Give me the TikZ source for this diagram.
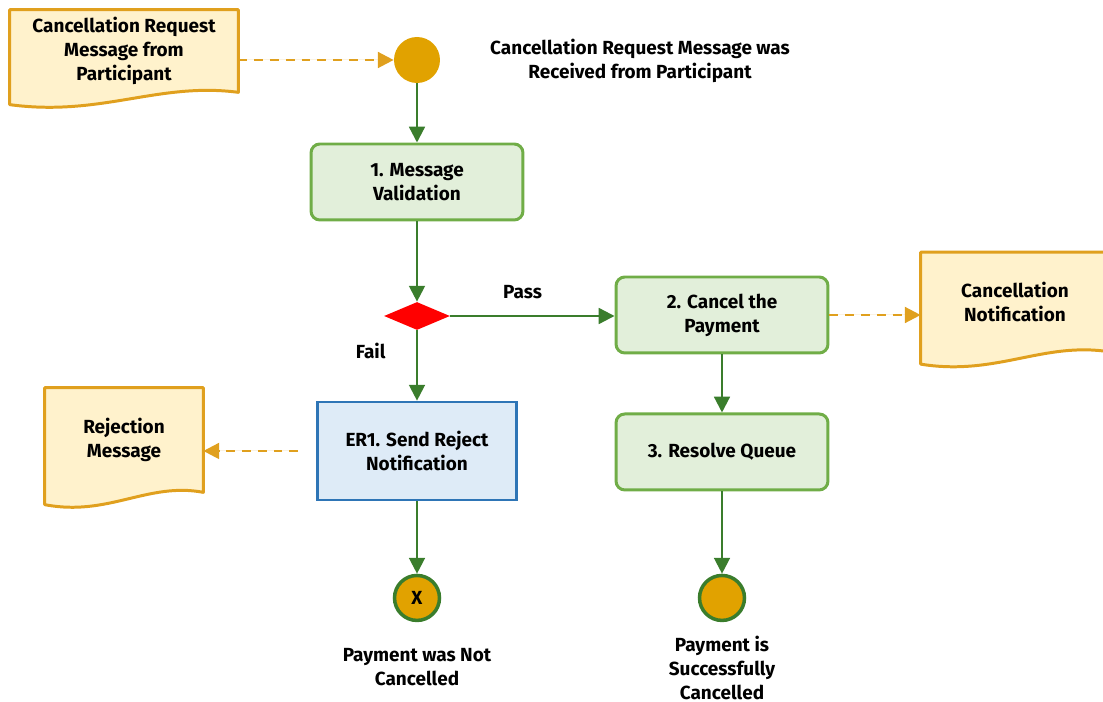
\documentclass[tikz,border=0pt]{standalone}
\usepackage{fontspec}
\setmainfont{Fira Sans}
\usetikzlibrary{shapes.geometric,arrows.meta,calc,backgrounds,positioning}

\definecolor{flowgreen}{HTML}{3A7D2C}
\definecolor{boxline}{HTML}{70AD47}
\definecolor{boxfill}{HTML}{E2EFDA}
\definecolor{errline}{HTML}{2E75B6}
\definecolor{errfill}{HTML}{DEEBF7}
\definecolor{docline}{HTML}{E0A01E}
\definecolor{docfill}{HTML}{FFF2CC}
\definecolor{eventfill}{HTML}{E1A200}

% document outline with a wavy bottom, drawn behind a node
\newcommand{\docshape}[1]{%
    \begin{scope}[on background layer]
    \draw[docline, fill=docfill, line width=1.7pt, line join=round]
        (#1.north west) -- (#1.north east) -- (#1.south east)
        .. controls ($(#1.south east)!0.35!(#1.south west)+(0,6pt)$)
        and ($(#1.south east)!0.6!(#1.south west)+(0,-14pt)$)
        .. ($(#1.south west)+(0,-7pt)$) -- cycle;
    \end{scope}}

\begin{document}
\begin{tikzpicture}[x=0.02cm,y=-0.02cm]
    \tikzstyle{txt} = [font=\fontsize{10.8}{13.7}\selectfont\bfseries, align=center]
    \tikzstyle{line} = [-{Triangle[length=9pt,width=9pt]}, draw=flowgreen,
        fill=flowgreen, line width=1.3pt]
    \tikzstyle{dline} = [-{Triangle[length=9pt,width=9pt]}, draw=docline,
        fill=docline, line width=1.4pt, dash pattern=on 5pt off 4pt]
    \tikzstyle{greenbox} = [txt, rectangle, rounded corners=5pt, draw=boxline,
        fill=boxfill, line width=1.7pt, minimum width=4.24cm, minimum height=1.52cm]
    \tikzstyle{bluebox} = [txt, rectangle, draw=errline, fill=errfill,
        line width=1.5pt, minimum width=3.98cm, minimum height=1.96cm]
    \tikzstyle{doc} = [txt, rectangle, inner sep=0pt]
    \tikzstyle{event} = [circle, fill=eventfill, minimum size=0.92cm, inner sep=0pt]
    \tikzstyle{endevent} = [event, draw=flowgreen, line width=2pt, minimum size=0.9cm,
        txt]

    \clip (0,0) rectangle (1103,702);

    \node(reqmsg) [doc, minimum width=4.56cm, minimum height=1.64cm]
        at (124,51) {Cancellation Request\\ Message from\\ Participant};
    \docshape{reqmsg}
    \node(start) [event] at (417,60) {};
    \node(startlabel) [txt] at (640,61)
        {Cancellation Request Message was\\ Received from Participant};

    \node(validate) [greenbox] at (417,182) {1. Message\\ Validation};
    \node(check) [diamond, fill=red, minimum width=1.32cm, minimum height=0.56cm,
        inner sep=0pt] at (417,316) {};
    \node(cancel) [greenbox] at (722,315) {2. Cancel the\\ Payment};
    \node(resolve) [greenbox, below of=cancel, node distance=2.74cm]
        {3. Resolve Queue};
    \node(reject) [bluebox, below of=check, node distance=2.7cm]
        {ER1. Send Reject\\ Notification};

    \node(cancelnote) [doc, minimum width=3.76cm, minimum height=1.98cm]
        at (1015,302) {Cancellation\\ Notification};
    \docshape{cancelnote}
    \node(rejmsg) [doc, minimum width=3.16cm, minimum height=2.08cm]
        at (124,440) {Rejection\\ Message};
    \docshape{rejmsg}

    \node(endfail) [endevent, below of=reject, node distance=2.94cm] {X};
    \node(endok) [endevent, below of=resolve, node distance=2.92cm] {};
    \node(failtext) [txt, below of=endfail, node distance=1.38cm]
        {Payment was Not\\ Cancelled};
    \node(oktext) [txt, below of=endok, node distance=1.4cm]
        {Payment is\\ Successfully\\ Cancelled};

    \draw[dline] (start.west -| reqmsg.east) -- (start);
    \draw[line] (start) -- (validate);
    \draw[line] (validate) -- (check);
    \draw[line] (check.east) -- node[txt, pos=0.44, above=6pt] {Pass}
        (check.east -| cancel.west);
    \draw[line] (check) -- node[txt, pos=0.3, left=14pt] {Fail} (reject);
    \draw[dline] (cancel.east) -- (cancel.east -| cancelnote.west);
    \draw[dline, shorten <=0.36cm] (reject.west) -- (reject.west -| rejmsg.east);
    \draw[line] (cancel) -- (resolve);
    \draw[line] (reject) -- (endfail);
    \draw[line] (resolve) -- (endok);
\end{tikzpicture}
\end{document}
